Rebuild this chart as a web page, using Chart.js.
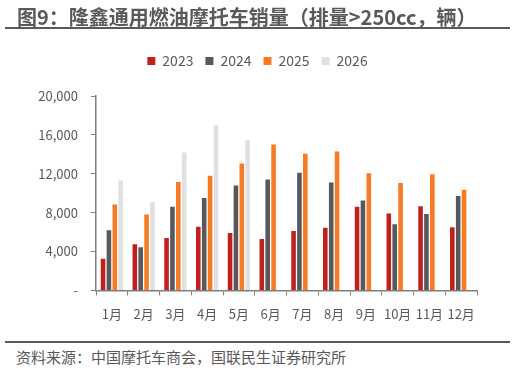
<!DOCTYPE html>
<html>
<head>
<meta charset="utf-8">
<script src="https://cdn.jsdelivr.net/npm/chart.js@4"></script>
<style>
  html, body { margin: 0; padding: 0; background: #fff; }
  #wrap { position: relative; width: 515px; height: 370px; font-family: "Noto Sans CJK SC", "Noto Sans", sans-serif; }
  #title { position: absolute; left: 17px; top: 2px; font-size: 20px; font-weight: bold; color: #595959; white-space: nowrap; }
  .rule { position: absolute; left: 5px; width: 505px; height: 2px; background: #595959; }
  #source { position: absolute; left: 16px; top: 346px; font-size: 15px; color: #595959; white-space: nowrap; }
  canvas { position: absolute; left: 0; top: 0; }
</style>
</head>
<body>
<div id="wrap">
  <canvas id="salesChart" width="515" height="340"></canvas>
  <div id="title">图9：隆鑫通用燃油摩托车销量（排量&gt;250cc，辆）</div>
  <div class="rule" style="top:27px"></div>
  <div class="rule" style="top:341px"></div>
  <div id="source">资料来源：中国摩托车商会，国联民生证券研究所</div>
</div>
<script>
/* Longxin fuel motorcycle sales (>250cc), monthly by year */

const months = ["1月", "2月", "3月", "4月", "5月", "6月", "7月", "8月", "9月", "10月", "11月", "12月"];
const sales2023 = [3250, 4750, 5400, 6550, 5900, 5300, 6100, 6450, 8600, 7900, 8650, 6500];
const sales2024 = [6200, 4450, 8600, 9500, 10800, 11400, 12100, 11100, 9250, 6800, 7850, 9700];
const sales2025 = [8850, 7800, 11150, 11800, 13050, 15000, 14050, 14300, 12050, 11050, 11950, 10350];
const sales2026 = [11300, 9100, 14200, 17000, 15450, null, null, null, null, null, null, null];
const yTicks = [0, 4000, 8000, 12000, 16000, 20000];

const COLORS = {
  red: "#C0201E",
  dark: "#55585C",
  orange: "#F77A24",
  light: "#E0E0E0",
  axis: "#7F7F7F",
  text: "#595959",
};

const fmtTick = (v) => (v === 0 ? "-" : v.toLocaleString("en-US"));

// extra room under the legend
const legendSpacer = {
  id: "legendSpacer",
  beforeInit(chart) {
    const fit = chart.legend.fit;
    chart.legend.fit = function () {
      fit.bind(chart.legend)();
      this.height += 18;
    };
  },
};

function series(label, data, color) {
  return {
    label,
    data,
    backgroundColor: color,
    borderWidth: 0,
    categoryPercentage: 0.74,
    barPercentage: 0.78,
  };
}

new Chart(document.getElementById("salesChart"), {
  type: "bar",
  data: {
    labels: months,
    datasets: [
      series("2023", sales2023, COLORS.red),
      series("2024", sales2024, COLORS.dark),
      series("2025", sales2025, COLORS.orange),
      series("2026", sales2026, COLORS.light),
    ],
  },
  options: {
    responsive: false,
    animation: false,
    layout: { padding: { top: 42, right: 0, left: 0, bottom: 7 } },
    plugins: {
      legend: {
        position: "top",
        labels: {
          boxWidth: 8,
          boxHeight: 8,
          padding: 12,
          color: COLORS.text,
          font: { family: "'Noto Sans CJK SC', sans-serif", size: 14 },
        },
      },
      tooltip: { enabled: false },
    },
    scales: {
      x: {
        grid: { drawOnChartArea: false, drawTicks: true, tickLength: 5, color: COLORS.axis, offset: true },
        border: { color: COLORS.axis, width: 1.5 },
        ticks: {
          color: COLORS.text,
          padding: 11,
          maxRotation: 0,
          autoSkip: false,
          font: { family: "'Noto Sans CJK SC', sans-serif", size: 13 },
        },
      },
      y: {
        min: 0,
        max: 20000,
        afterBuildTicks: (scale) => {
          scale.ticks = yTicks.map((v) => ({ value: v }));
        },
        afterFit: (scale) => {
          scale.width = 96;
        },
        grid: { drawOnChartArea: false, drawTicks: true, tickLength: 5, color: COLORS.axis },
        border: { color: COLORS.axis, width: 1.5 },
        ticks: {
          color: COLORS.text,
          padding: 13,
          callback: (v) => fmtTick(v),
          font: { family: "'Noto Sans CJK SC', sans-serif", size: 13 },
        },
      },
      // empty right gutter so the legend stays centred on the full width
      yRight: {
        position: "right",
        display: true,
        afterFit: (scale) => {
          scale.width = 38;
        },
        grid: { display: false },
        border: { display: false },
        ticks: { display: false },
      },
    },
  },
  plugins: [legendSpacer],
});
</script>
</body>
</html>
